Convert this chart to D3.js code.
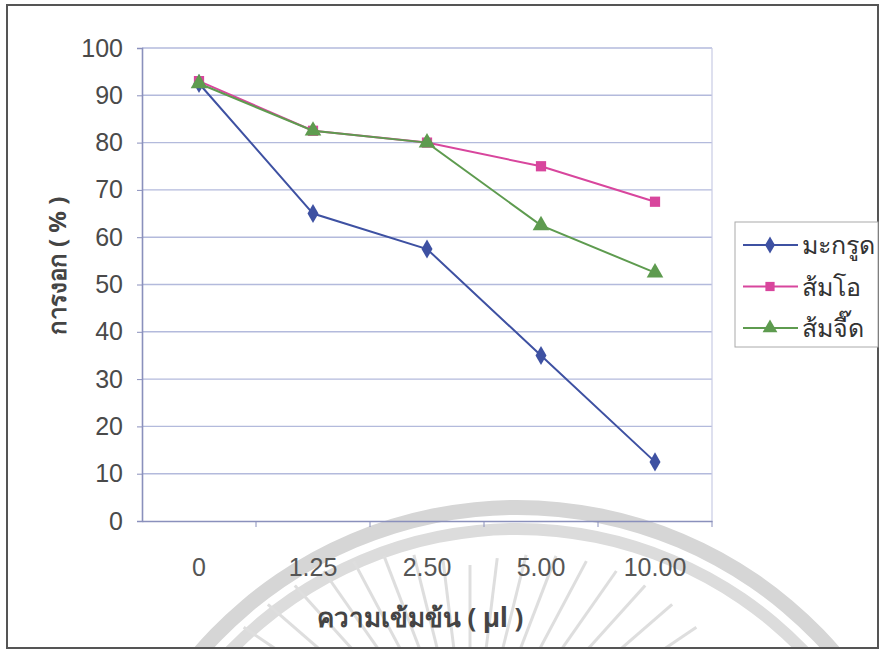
<!DOCTYPE html>
<html>
<head>
<meta charset="utf-8">
<script src="https://cdn.jsdelivr.net/npm/d3@7"></script>
<style>
  body { margin: 0; background: #fff; }
  svg { display: block; }
</style>
</head>
<body>
<script>
// data
var categories = ["0", "1.25", "2.50", "5.00", "10.00"];
var seriesNames = ["มะกรูด", "ส้มโอ", "ส้มจี๊ด"];
var makrut = [92.5, 65, 57.5, 35, 12.5];
var somO = [93, 82.5, 80, 75, 67.5];
var somJeed = [92.5, 82.5, 80, 62.5, 52.5];
var yTicks = [0, 10, 20, 30, 40, 50, 60, 70, 80, 90, 100];

var colors = ["#3e51a2", "#d8469d", "#5e9b4f"];
var shapes = [d3.symbolDiamond, d3.symbolSquare, d3.symbolTriangle];
var series = [makrut, somO, somJeed];

var W = 880, H = 649;
var margin = {top: 48, right: 168, bottom: 128, left: 142},
    width = W - margin.left - margin.right,
    height = H - margin.top - margin.bottom;

var svg = d3.select("body")
  .append("svg")
    .attr("width", W)
    .attr("height", H);

// faint watermark from the scan: two arcs and some rays
var wm = svg.append("g").attr("transform", "translate(517,927)");
wm.append("path")
  .attr("d", d3.arc()({innerRadius: 412, outerRadius: 427, startAngle: -1.6, endAngle: 1.6}))
  .attr("fill", "#d6d6d6");
wm.append("path")
  .attr("d", d3.arc()({innerRadius: 392, outerRadius: 404, startAngle: -1.6, endAngle: 1.6}))
  .attr("fill", "#dcdcdc");
var rays = svg.append("g").attr("transform", "translate(470,780)");
d3.range(-56, 57, 7).forEach(function(a) {
  var t = a * Math.PI / 180;
  var r1 = 120, r2 = 215 + 70 * Math.abs(Math.sin(t));
  rays.append("line")
    .attr("x1", r1 * Math.sin(t)).attr("y1", -r1 * Math.cos(t))
    .attr("x2", r2 * Math.sin(t)).attr("y2", -r2 * Math.cos(t))
    .attr("stroke", "#dedede")
    .attr("stroke-width", 3);
});

// outer frame
svg.append("rect")
  .attr("x", 7).attr("y", 5)
  .attr("width", 871).attr("height", 643)
  .attr("fill", "none")
  .attr("stroke", "#555")
  .attr("stroke-width", 2);

var g = svg.append("g")
  .attr("transform", "translate(" + margin.left + "," + margin.top + ")");

var x = d3.scaleBand()
  .domain(categories)
  .range([0, width]);

var y = d3.scaleLinear()
  .domain([0, 100])
  .range([height, 0]);

// gridlines
g.append("g")
  .selectAll("line")
  .data(yTicks.filter(function(d) { return d > 0; }))
  .enter()
  .append("line")
    .attr("x1", 0).attr("x2", width)
    .attr("y1", function(d) { return y(d); })
    .attr("y2", function(d) { return y(d); })
    .attr("stroke", "#b3badc")
    .attr("stroke-width", 1.4);

// right edge of plot area
g.append("line")
  .attr("x1", width).attr("x2", width)
  .attr("y1", 0).attr("y2", height)
  .attr("stroke", "#c8cce4")
  .attr("stroke-width", 1.2);

// y axis
var yAxis = g.append("g")
  .call(d3.axisLeft(y).tickValues(yTicks).tickSize(5).tickPadding(14));
yAxis.select(".domain").attr("stroke", "#8a90bc").attr("stroke-width", 1.6);
yAxis.selectAll(".tick line").attr("stroke", "#8a90bc");
yAxis.selectAll("text")
  .attr("fill", "#4a4a4a")
  .style("font-family", "'Liberation Sans', Arial, sans-serif")
  .style("font-size", "25px");

// x axis
var xAxis = g.append("g")
  .attr("transform", "translate(0," + height + ")")
  .call(d3.axisBottom(x).tickSize(0).tickPadding(37));
xAxis.select(".domain").attr("stroke", "#8a90bc").attr("stroke-width", 1.6);
xAxis.selectAll("text")
  .attr("fill", "#555")
  .style("font-family", "'Liberation Sans', Arial, sans-serif")
  .style("font-size", "25px");
// band boundary ticks
xAxis.selectAll(".bound")
  .data(categories)
  .enter()
  .append("line")
    .attr("x1", function(d, i) { return x.step() * (i + 1); })
    .attr("x2", function(d, i) { return x.step() * (i + 1); })
    .attr("y1", 0).attr("y2", 6)
    .attr("stroke", "#8a90bc");

// lines and markers
series.forEach(function(vals, s) {
  var line = d3.line()
    .x(function(d, i) { return x(categories[i]) + x.bandwidth() / 2; })
    .y(function(d) { return y(d); });
  g.append("path")
    .datum(vals)
    .attr("fill", "none")
    .attr("stroke", colors[s])
    .attr("stroke-width", 2)
    .attr("d", line);
  g.append("g")
    .selectAll("path")
    .data(vals)
    .enter()
    .append("path")
      .attr("d", d3.symbol().type(shapes[s]).size(s === 2 ? 120 : 105))
      .attr("transform", function(d, i) {
        return "translate(" + (x(categories[i]) + x.bandwidth() / 2) + "," + y(d) + ")";
      })
      .attr("fill", colors[s]);
});

// axis titles
svg.append("text")
  .attr("x", 420)
  .attr("y", 627)
  .attr("text-anchor", "middle")
  .attr("fill", "#444")
  .style("font-family", "'Noto Sans', 'Liberation Sans', sans-serif")
  .style("font-weight", "bold")
  .style("font-size", "26px")
  .text("ความเข้มข้น ( µl )");

svg.append("text")
  .attr("transform", "translate(66,266) rotate(-90)")
  .attr("text-anchor", "middle")
  .attr("fill", "#444")
  .style("font-family", "'Noto Sans', 'Liberation Sans', sans-serif")
  .style("font-weight", "bold")
  .style("font-size", "24px")
  .text("การงอก ( % )");

// legend
var legend = svg.append("g").attr("transform", "translate(735,222)");
legend.append("rect")
  .attr("width", 143).attr("height", 125)
  .attr("fill", "#fff")
  .attr("stroke", "#aaa");
seriesNames.forEach(function(name, s) {
  var ly = 23 + s * 41.5;
  legend.append("line")
    .attr("x1", 8).attr("x2", 63)
    .attr("y1", ly).attr("y2", ly)
    .attr("stroke", colors[s])
    .attr("stroke-width", 1.8);
  legend.append("path")
    .attr("d", d3.symbol().type(shapes[s]).size(s === 2 ? 95 : 85))
    .attr("transform", "translate(35," + ly + ")")
    .attr("fill", colors[s]);
  legend.append("text")
    .attr("x", 67).attr("y", ly + 9)
    .attr("fill", "#333")
    .style("font-family", "'Noto Sans', 'Liberation Sans', sans-serif")
    .style("font-size", "25px")
    .text(name);
});
</script>
</body>
</html>
